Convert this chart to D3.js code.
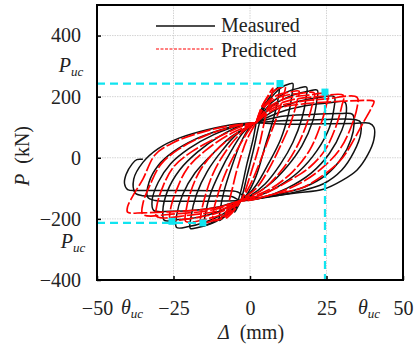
<!DOCTYPE html>
<html>
<head>
<meta charset="utf-8">
<script src="https://cdn.jsdelivr.net/npm/d3@7/dist/d3.min.js"></script>
<style>
  html, body { margin: 0; padding: 0; background: #fff; }
</style>
</head>
<body>
<svg id="chart" width="416" height="352" font-family="Liberation Serif"></svg>
<script>
// Axis ticks
const xTicks = [-50, -25, 0, 25, 50];
const yTicks = [-400, -200, 0, 200, 400];

// Measured hysteresis cycles, [displacement mm, load kN]
const measured = [
  [[2,115],[4,165],[5,180],[4.5,160],[3,110],[1,20],[-1,-60],[-3,-140],[-4.5,-170],[-5,-178],[-4.5,-160],[-3,-110],[-1,-20],[1,60],[2,115]],
  [[2,115],[5,175],[8,220],[9.5,232],[9.3,200],[8,140],[5,40],[2,-60],[-1,-120],[-3,-140],[-6,-175],[-9,-198],[-10,-205],[-9.8,-175],[-8.5,-110],[-6,-30],[-3,50],[0,100],[2,115]],
  [[2,115],[6,185],[10,228],[13,242],[14,243],[13.7,205],[12.5,140],[10,60],[6,-20],[2,-90],[-1,-125],[-3,-140],[-7,-180],[-11,-208],[-14,-220],[-15,-222],[-14.6,-185],[-13,-120],[-10,-50],[-6,25],[-2,85],[2,115]],
  [[2,115],[7,180],[12,215],[16,228],[18.5,231],[18.3,195],[17,130],[14,50],[10,-20],[5,-85],[0,-125],[-3,-140],[-8,-185],[-13,-215],[-17,-228],[-19.5,-231],[-19.3,-195],[-17.5,-120],[-14,-45],[-9,25],[-4,80],[2,115]],
  [[2,115],[8,175],[14,205],[19,218],[22,221],[21.8,185],[20.5,120],[17,40],[12,-30],[6,-90],[0,-128],[-3,-140],[-9,-185],[-15,-212],[-20,-225],[-24,-228],[-24,-190],[-22,-120],[-18,-50],[-12,15],[-6,70],[2,115]],
  [[2,115],[9,160],[16,185],[23,198],[27.5,200],[27.5,165],[26,100],[22,25],[16,-45],[9,-95],[2,-128],[-3,-140],[-10,-175],[-17,-195],[-24,-203],[-28,-205],[-28.5,-175],[-27,-110],[-23,-40],[-17,20],[-10,70],[-3,105],[2,115]],
  [[2,115],[10,150],[18,170],[26,180],[31,182],[31.5,150],[30,90],[26,15],[20,-50],[12,-100],[4,-130],[-3,-140],[-10,-160],[-18,-172],[-26,-175],[-31.5,-172],[-32,-140],[-30,-80],[-26,-20],[-20,30],[-12,75],[-4,105],[2,115]],
  [[2,115],[10,135],[20,142],[30,145],[33.5,142],[34,110],[33,60],[30,0],[25,-55],[18,-95],[10,-118],[2,-135],[-3,-140],[-12,-142],[-22,-142],[-31,-140],[-33.5,-128],[-33,-80],[-30,-25],[-25,20],[-18,60],[-10,90],[-3,110],[2,115]],
  [[2,115],[12,122],[24,125],[33,126],[36,118],[36.2,80],[34,20],[30,-40],[24,-85],[15,-112],[5,-130],[-3,-140],[-6,-127],[-15,-125],[-28,-124],[-35,-124],[-37.5,-115],[-38,-70],[-35,-15],[-30,30],[-23,65],[-14,92],[-5,110],[2,115]],
  [[2,115],[12,110],[24,111],[34,112],[39,113],[40.5,100],[40.5,60],[38.5,10],[35,-40],[30,-75],[24,-103],[15,-115],[5,-128],[-1,-132],[-4,-112],[-10,-108],[-25,-107],[-36,-107],[-40,-104],[-41,-85],[-40.5,-55],[-38.5,-20],[-37,-6],[-35,-5]]
];

// Predicted hysteresis cycles, [displacement mm, load kN]
const predicted = [
  [[2,115],[4,170],[6,205],[7.5,228],[7,200],[5,130],[3,40],[0,-60],[-2,-120],[-3,-140],[-5,-170],[-7,-192],[-8,-198],[-7.5,-170],[-6,-110],[-4,-30],[-1,60],[2,115]],
  [[2,115],[4,170],[7,212],[10,230],[11.5,232],[11,205],[9,140],[6,60],[3,-20],[0,-90],[-3,-140],[-6,-178],[-9,-198],[-12,-205],[-12,-180],[-10.5,-120],[-8,-50],[-4,30],[0,95],[2,115]],
  [[2,115],[5,175],[9,205],[13,215],[16,218],[15.5,190],[13.5,120],[10,40],[6,-40],[2,-100],[-3,-140],[-7,-180],[-11,-202],[-16,-212],[-16,-185],[-14.5,-120],[-12,-50],[-8,20],[-3,80],[2,115]],
  [[2,115],[5,170],[10,200],[16,210],[21,212],[20.5,180],[18.5,110],[15,30],[10,-45],[4,-105],[-3,-140],[-8,-180],[-14,-200],[-21,-208],[-21,-180],[-19.5,-115],[-16.5,-45],[-12,15],[-5,75],[2,115]],
  [[2,115],[6,165],[12,195],[19,205],[25.5,208],[25,175],[23,105],[19.5,25],[14,-45],[7,-100],[0,-130],[-3,-140],[-9,-175],[-17,-195],[-26,-200],[-26,-170],[-24,-105],[-20.5,-35],[-15,20],[-7,75],[2,115]],
  [[2,115],[6,160],[13,188],[22,200],[30.5,204],[30,170],[28,100],[24.5,25],[19.5,-31],[13,-74],[6,-112],[0,-133],[-3,-140],[-10,-172],[-20,-188],[-30.5,-192],[-30.5,-160],[-28.5,-95],[-25,-30],[-19,20],[-10,70],[-2,105],[2,115]],
  [[2,115],[7,160],[15,182],[25,193],[35,198],[35,165],[33,100],[29.5,30],[24,-30],[17,-80],[9,-115],[1,-135],[-3,-140],[-12,-170],[-24,-183],[-35,-185],[-35,-150],[-32.5,-85],[-29,-20],[-23,30],[-14,75],[-4,105],[2,115]],
  [[2,115],[8,158],[18,177],[30,185],[38,188],[40.5,185],[39.5,160],[37,115],[34,60],[30.4,2],[26,-41],[17.3,-97],[8.8,-117],[0,-139],[-3,-142],[-12,-165],[-25,-176],[-35,-180],[-40,-178],[-40,-160],[-38,-120],[-35,-70],[-31,10],[-25,50],[-17,80],[-8,102],[2,115]]
];

// Ultimate-capacity reference points and guide lines
const ucPoints = [[9.8,243],[24.5,215],[-25.5,-208],[-15.4,-213]];
const ucPosLoad = 243, ucNegLoad = -213, ucDisp = 24.5;

const SERIF = "'Liberation Serif'";
const svg = d3.select("#chart").style("font-family", SERIF);
const x = d3.scaleLinear().domain([-50, 50]).range([97, 403]);
const y = d3.scaleLinear().domain([-400, 500]).range([280, 5]);

svg.append("defs").append("clipPath").attr("id", "plot")
  .append("rect").attr("x", 97).attr("y", 5).attr("width", 306).attr("height", 275);

// gridlines
const grid = svg.append("g").attr("stroke", "#d4d4d4").attr("stroke-width", 1).attr("stroke-dasharray", "1.5,1");
grid.selectAll(".gx").data(xTicks.slice(1, -1)).join("line")
  .attr("x1", d => x(d)).attr("x2", d => x(d)).attr("y1", 5).attr("y2", 280);
grid.selectAll(".gy").data(yTicks.slice(1)).join("line")
  .attr("y1", d => y(d)).attr("y2", d => y(d)).attr("x1", 97).attr("x2", 403);

const line = d3.line().x(d => x(d[0])).y(d => y(d[1])).curve(d3.curveCatmullRom.alpha(0.5));
const plot = svg.append("g").attr("clip-path", "url(#plot)");

plot.selectAll(".meas").data(measured).join("path")
  .attr("d", line).attr("fill", "none").attr("stroke", "#111").attr("stroke-width", 1.5);

plot.selectAll(".pred").data(predicted).join("path")
  .attr("d", line).attr("fill", "none").attr("stroke", "#f00").attr("stroke-width", 1.7)
  .attr("stroke-dasharray", "14,2.5");

// guide lines for ultimate capacity
const cyan = "#10e4f0";
const guide = plot.append("g").attr("stroke", cyan).attr("stroke-width", 2.2).attr("stroke-dasharray", "8,5");
guide.append("line").attr("x1", x(-50)).attr("x2", x(ucPoints[0][0])).attr("y1", y(ucPosLoad)).attr("y2", y(ucPosLoad));
guide.append("line").attr("x1", x(-50)).attr("x2", x(ucPoints[3][0])).attr("y1", y(ucNegLoad)).attr("y2", y(ucNegLoad));
guide.append("line").attr("x1", x(ucDisp)).attr("x2", x(ucDisp)).attr("y1", y(ucPoints[1][1])).attr("y2", y(-400));
plot.selectAll(".uc").data(ucPoints).join("rect")
  .attr("x", d => x(d[0]) - 3.5).attr("y", d => y(d[1]) - 3.5)
  .attr("width", 7).attr("height", 7).attr("fill", cyan);

// axes
const yAxis = d3.axisLeft(y).tickValues(yTicks).tickSizeInner(-4).tickSizeOuter(0).tickPadding(16);
const xAxis = d3.axisBottom(x).tickValues(xTicks).tickSizeInner(-4).tickSizeOuter(0).tickPadding(21);
const gy = svg.append("g").attr("transform", "translate(97,0)").call(yAxis);
const gx = svg.append("g").attr("transform", "translate(0,280)").call(xAxis);
[gx, gy].forEach(g => {
  g.attr("font-family", "Liberation Serif");
  g.select(".domain").remove();
  g.selectAll("line").attr("stroke", "#000").attr("stroke-width", 1.5);
  g.selectAll("text").style("font-family", SERIF).attr("font-size", 20).attr("fill", "#222");
});

// frame
svg.append("rect").attr("x", 97).attr("y", 5).attr("width", 306).attr("height", 275)
  .attr("fill", "none").attr("stroke", "#000").attr("stroke-width", 2);

// subscripted labels
function subLabel(px, py, main) {
  const t = svg.append("text").attr("x", px).attr("y", py).attr("text-anchor", "middle")
    .style("font-family", SERIF).attr("font-size", 20).attr("fill", "#222").attr("font-style", "italic");
  t.append("tspan").text(main);
  t.append("tspan").attr("font-size", 13).attr("dy", 4).text("uc");
}
subLabel(71, 72, "P");
subLabel(73, 248, "P");
subLabel(132, 314, "θ");
subLabel(369, 314, "θ");

// axis titles
const yt = svg.append("text").attr("transform", "translate(29,156) rotate(-90)")
  .attr("text-anchor", "middle").style("font-family", SERIF).attr("font-size", 20).attr("fill", "#222");
yt.append("tspan").attr("font-style", "italic").text("P");
yt.append("tspan").text("\u00a0\u00a0(kN)");
const xt = svg.append("text").attr("x", 251).attr("y", 339)
  .attr("text-anchor", "middle").style("font-family", SERIF).attr("font-size", 20).attr("fill", "#222");
xt.append("tspan").attr("font-style", "italic").text("Δ");
xt.append("tspan").text("\u00a0\u00a0(mm)");

// legend
const lg = svg.append("g");
lg.append("line").attr("x1", 156).attr("x2", 215).attr("y1", 26).attr("y2", 26)
  .attr("stroke", "#111").attr("stroke-width", 1.3);
lg.append("text").attr("x", 221).attr("y", 32).style("font-family", SERIF)
  .attr("font-size", 20).attr("fill", "#222").text("Measured");
lg.append("line").attr("x1", 156).attr("x2", 214).attr("y1", 49).attr("y2", 49)
  .attr("stroke", "#f00").attr("stroke-width", 1).attr("stroke-dasharray", "3,1.5");
lg.append("text").attr("x", 221).attr("y", 57).style("font-family", SERIF)
  .attr("font-size", 20).attr("fill", "#222").text("Predicted");
</script>
</body>
</html>
